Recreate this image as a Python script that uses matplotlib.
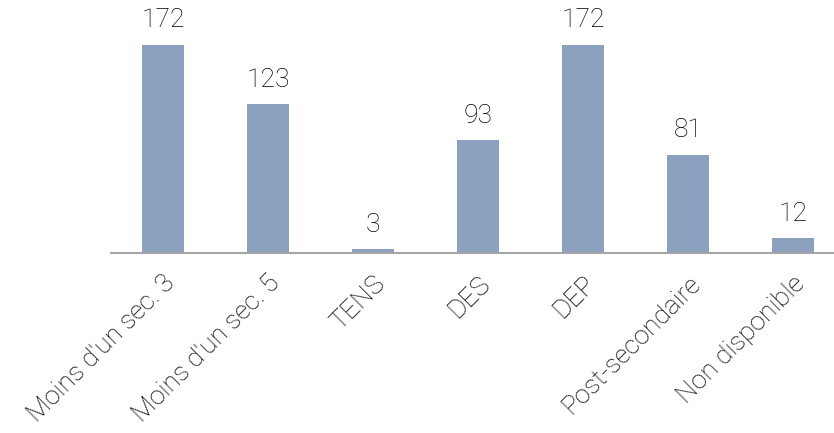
import matplotlib.pyplot as plt

plt.rcParams['font.family'] = ['Roboto', 'DejaVu Sans']

categories = ["Moins d'un sec. 3", "Moins d'un sec. 5", "TENS", "DES", "DEP",
              "Post-secondaire", "Non disponible"]
values = [172, 123, 3, 93, 172, 81, 12]

fig = plt.figure(figsize=(8.34, 4.33), dpi=100)
# axes run slightly past the right edge, like the original
ax = fig.add_axes([110.5 / 834, 1 - 253 / 433, 735 / 834, 242 / 433])

x = range(len(categories))
bars = ax.bar(x, values, width=0.4, color="#8CA0BF")

for xi, v in zip(x, values):
    ax.annotate(str(v), (xi, v), xytext=(0, 9), textcoords="offset points",
                ha="center", va="bottom", fontsize=19, fontweight="light",
                color="#000000")

ax.set_xlim(-0.5, len(categories) - 0.5)
ax.set_ylim(0, 200)
ax.set_xticks(list(x))
ax.set_xticklabels(categories, rotation=45, ha="right", rotation_mode="anchor",
                   fontsize=19, fontweight="light", color="#000000")
ax.tick_params(axis="x", length=0, pad=13)
ax.set_yticks([])
for side in ["top", "right", "left"]:
    ax.spines[side].set_visible(False)
ax.spines["bottom"].set_color("#A6A6A6")
ax.spines["bottom"].set_linewidth(1.5)

fig.savefig("out.png", dpi=100)
